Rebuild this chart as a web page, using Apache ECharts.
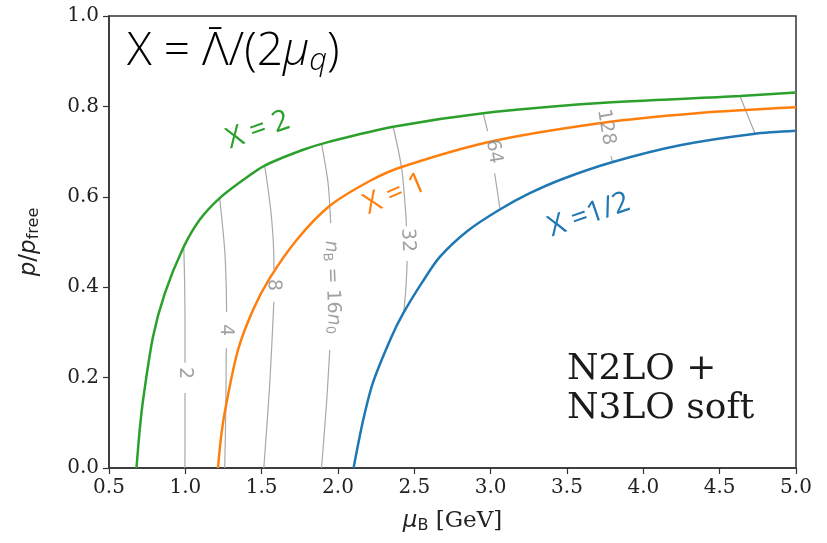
<!DOCTYPE html>
<html>
<head>
<meta charset="utf-8">
<script src="https://cdn.jsdelivr.net/npm/echarts@6/dist/echarts.min.js"></script>
<style>
  html, body { margin: 0; padding: 0; background: #fff; }
  #chart { width: 827px; height: 543px; }
</style>
</head>
<body>
<div id="chart"></div>
<script>
// p/p_free vs mu_B [GeV]
const curveX2 = [[0.68, 0], [0.701, 0.084], [0.723, 0.15], [0.788, 0.29], [0.865, 0.386], [0.985, 0.486],
  [1.094, 0.549], [1.225, 0.597], [1.378, 0.637], [1.52, 0.669], [1.772, 0.704], [1.946, 0.722],
  [2.361, 0.755], [2.951, 0.785], [3.694, 0.807], [4.633, 0.823], [5.0, 0.831]];
const curveX1 = [[1.214, 0], [1.237, 0.077], [1.269, 0.143], [1.345, 0.261], [1.444, 0.35], [1.553, 0.42],
  [1.728, 0.504], [1.946, 0.58], [2.208, 0.635], [2.416, 0.666], [2.996, 0.722], [3.737, 0.764],
  [4.35, 0.785], [5.0, 0.798]];
const curveXhalf = [[2.102, 0], [2.165, 0.106], [2.23, 0.19], [2.35, 0.29], [2.427, 0.342], [2.55, 0.41],
  [2.667, 0.467], [2.85, 0.525], [3.06, 0.572], [3.25, 0.607], [3.475, 0.640], [3.80, 0.677], [4.24, 0.714],
  [4.72, 0.739], [5.0, 0.746]];

// n_B / n_0 contours, split where the label sits
const contour2 = [[[0.99, 0.488], [0.996, 0.40], [0.998, 0.30], [0.998, 0.233]],
  [[0.998, 0.166], [0.998, 0.08], [0.997, 0.0]]];
const contour4 = [[[1.225, 0.597], [1.258, 0.482], [1.268, 0.40], [1.27, 0.345]],
  [[1.268, 0.265], [1.265, 0.13], [1.258, 0.0]]];
const contour8 = [[[1.52, 0.669], [1.564, 0.556], [1.58, 0.453], [1.58, 0.44]],
  [[1.58, 0.368], [1.553, 0.187], [1.514, 0.0]]];
const contour16 = [[[1.892, 0.718], [1.935, 0.63], [1.95, 0.556], [1.952, 0.542]],
  [[1.946, 0.261], [1.925, 0.144], [1.892, 0.0]]];
const contour32 = [[[2.361, 0.755], [2.416, 0.665], [2.444, 0.563], [2.448, 0.535]],
  [[2.453, 0.458], [2.445, 0.40], [2.431, 0.345]]];
const contour64 = [[[2.951, 0.785], [2.973, 0.755], [2.98, 0.745]],
  [[3.026, 0.652], [3.045, 0.61], [3.06, 0.575]]];
const contour128 = [[[3.788, 0.69], [3.80, 0.676]]];
const contour256 = [[[4.633, 0.823], [4.687, 0.777], [4.73, 0.741]]];

const contourLabelText = ["2", "4", "8", "{i|n}{s|B} = 16{i|n}{s|0}", "32", "64", "128"];
const contourLabelPos = [[0.998, 0.21], [1.266, 0.305], [1.578, 0.405], [1.962, 0.40], [2.456, 0.504], [3.02, 0.70], [3.755, 0.754]];
const contourLabelAngle = [-90, -91, -89, -88, -88, -80, -80];

const chartDom = document.getElementById("chart");
const myChart = echarts.init(chartDom);

const green = "#2ca02c";
const orange = "#ff7f0e";
const blue = "#1f77b4";
const gray = "#a8a8a8";

const contourSeries = [];
[contour2, contour4, contour8, contour16, contour32, contour64, contour128, contour256].forEach(function (c) {
  c.forEach(function (seg) {
    contourSeries.push({
      type: "line",
      data: seg,
      smooth: 0.3,
      symbol: "none",
      silent: true,
      z: 1,
      lineStyle: { color: gray, width: 1.2 },
    });
  });
});

function curve(data, color) {
  return {
    type: "line",
    data: data,
    smooth: 0.3,
    symbol: "none",
    z: 3,
    lineStyle: { color: color, width: 2.5 },
  };
}

const option = {
  animation: false,
  grid: {
    left: 109,
    right: 31,
    top: 16,
    bottom: 75,
    show: true,
    borderColor: "#333",
    borderWidth: 1.5,
  },
  xAxis: {
    type: "value",
    min: 0.5,
    max: 5.0,
    interval: 0.5,
    name: "{i|μ}{s|B} [GeV]",
    nameLocation: "middle",
    nameGap: 40,
    nameTextStyle: {
      fontFamily: "DejaVu Serif",
      fontSize: 23,
      color: "#222",
      rich: {
        i: { fontFamily: "DejaVu Sans", fontStyle: "italic", fontSize: 23, color: "#222" },
        s: { fontFamily: "DejaVu Sans", fontSize: 16, color: "#222", padding: [10, 0, 0, 0] },
      },
    },
    axisLine: { onZero: false, lineStyle: { color: "#333", width: 1.5 } },
    axisTick: { inside: false, length: 6, lineStyle: { color: "#333", width: 1.2 } },
    axisLabel: {
      margin: 10,
      fontFamily: "DejaVu Serif",
      fontSize: 20,
      color: "#222",
      formatter: function (v) { return v.toFixed(1); },
    },
    splitLine: { show: false },
  },
  yAxis: {
    type: "value",
    min: 0,
    max: 1.0,
    interval: 0.2,
    name: "{i|p}/{i|p}{s|free}",
    nameLocation: "middle",
    nameGap: 67,
    nameTextStyle: {
      fontFamily: "DejaVu Sans",
      fontSize: 23,
      color: "#222",
      rich: {
        i: { fontFamily: "DejaVu Sans", fontStyle: "italic", fontSize: 23, color: "#222" },
        s: { fontFamily: "DejaVu Sans", fontSize: 16, color: "#222", padding: [10, 0, 0, 0] },
      },
    },
    axisLine: { show: true, lineStyle: { color: "#333", width: 1.5 } },
    axisTick: { show: true, inside: false, length: 6, lineStyle: { color: "#333", width: 1.2 } },
    axisLabel: {
      margin: 10,
      fontFamily: "DejaVu Serif",
      fontSize: 20,
      color: "#222",
      formatter: function (v) { return v.toFixed(1); },
    },
    splitLine: { show: false },
  },
  series: [
    ...contourSeries,
    curve(curveX2, green),
    curve(curveX1, orange),
    curve(curveXhalf, blue),
    {
      type: "scatter",
      symbolSize: 1,
      itemStyle: { color: "rgba(0,0,0,0)" },
      silent: true,
      z: 4,
      data: contourLabelPos.map(function (p, i) {
        return {
          value: p,
          label: {
            show: true,
            position: "inside",
            rotate: contourLabelAngle[i],
            formatter: contourLabelText[i],
            fontFamily: "DejaVu Sans",
            fontSize: 19,
            color: "#8a8a8a",
            rich: {
              i: { fontFamily: "DejaVu Sans", fontStyle: "italic", fontSize: 19, color: "#8a8a8a" },
              s: { fontFamily: "DejaVu Sans", fontSize: 13, color: "#8a8a8a", padding: [8, 0, 0, 0] },
            },
          },
        };
      }),
    },
  ],
  graphic: [
    {
      type: "text",
      x: 127,
      y: 52,
      style: {
        text: "X = Λ̄/(2{m|μ}{s|q})",
        fontFamily: "Open Sans",
        fontWeight: 300,
        fontSize: 46,
        fill: "#000",
        verticalAlign: "middle",
        rich: {
          m: { fontFamily: "Open Sans", fontStyle: "italic", fontWeight: 300, fontSize: 46, fill: "#000" },
          s: { fontFamily: "Open Sans", fontStyle: "italic", fontWeight: 300, fontSize: 31, fill: "#000", padding: [18, 0, 0, 0] },
        },
      },
    },
    {
      type: "text",
      x: 258,
      y: 130,
      rotation: (19 * Math.PI) / 180,
      style: {
        text: "X = 2",
        fontFamily: "Open Sans",
        fontSize: 29,
        fill: green,
        align: "center",
        verticalAlign: "middle",
      },
    },
    {
      type: "text",
      x: 395,
      y: 194,
      rotation: (23 * Math.PI) / 180,
      style: {
        text: "X = 1",
        fontFamily: "Open Sans",
        fontSize: 29,
        fill: orange,
        align: "center",
        verticalAlign: "middle",
      },
    },
    {
      type: "text",
      x: 589,
      y: 215,
      rotation: (19 * Math.PI) / 180,
      style: {
        text: "X =1/2",
        fontFamily: "Open Sans",
        fontSize: 29,
        fill: blue,
        align: "center",
        verticalAlign: "middle",
      },
    },
    {
      type: "text",
      x: 567,
      y: 350,
      style: {
        text: "N2LO +\nN3LO soft",
        fontFamily: "DejaVu Serif",
        fontSize: 36,
        lineHeight: 39,
        fill: "#1a1a1a",
      },
    },
  ],
};

window.addEventListener("resize", function () {
  myChart.resize();
});

option && myChart.setOption(option);
</script>
</body>
</html>
